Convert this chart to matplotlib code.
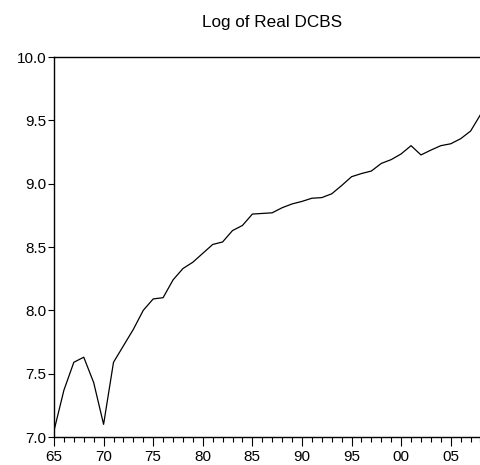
import matplotlib
matplotlib.use("Agg")
from matplotlib import pyplot as plt
from matplotlib.ticker import MultipleLocator, FuncFormatter

plt.rcParams['font.family'] = ['Liberation Sans', 'DejaVu Sans']

years = list(range(1965, 2009))
log_dcbs = [7.05, 7.37, 7.59, 7.63, 7.43, 7.10, 7.59, 7.72, 7.85, 8.00,
            8.09, 8.10, 8.24, 8.33, 8.38, 8.45, 8.52, 8.54, 8.63, 8.67,
            8.76, 8.765, 8.77, 8.81, 8.84, 8.86, 8.885, 8.89, 8.92, 8.985,
            9.055, 9.08, 9.10, 9.16, 9.19, 9.235, 9.30, 9.227, 9.265, 9.30,
            9.315, 9.355, 9.415, 9.545]

fig = plt.figure(figsize=(4.8, 4.65), dpi=100)
ax = fig.add_axes([0.1125, 0.0602, 0.8885, 0.8172])

ax.plot(years, log_dcbs, color='black', linewidth=0.9)

ax.set_xlim(1965, 2008)
ax.set_ylim(7.0, 10.0)
ax.xaxis.set_major_locator(MultipleLocator(5))
ax.xaxis.set_minor_locator(MultipleLocator(1))
ax.xaxis.set_major_formatter(FuncFormatter(lambda v, p: "%02d" % (int(round(v)) % 100)))
ax.yaxis.set_major_locator(MultipleLocator(0.5))
ax.yaxis.set_major_formatter(FuncFormatter(lambda v, p: "%.1f" % v))

ax.tick_params(axis='x', which='major', direction='out', length=6.5, width=0.8,
               labelsize=11, pad=2.5)
ax.tick_params(axis='x', which='minor', direction='out', length=3.6, width=0.8)
ax.tick_params(axis='y', which='major', direction='out', length=4, width=0.8,
               labelsize=11, pad=1.5)
ax.tick_params(top=False, right=False)

ax.spines['right'].set_visible(False)
for s in ['left', 'bottom', 'top']:
    ax.spines[s].set_linewidth(1.0)

fig.suptitle("Log of Real DCBS", x=0.567, y=0.968, fontsize=12.3, va='top')

fig.savefig("out.png", dpi=100)
